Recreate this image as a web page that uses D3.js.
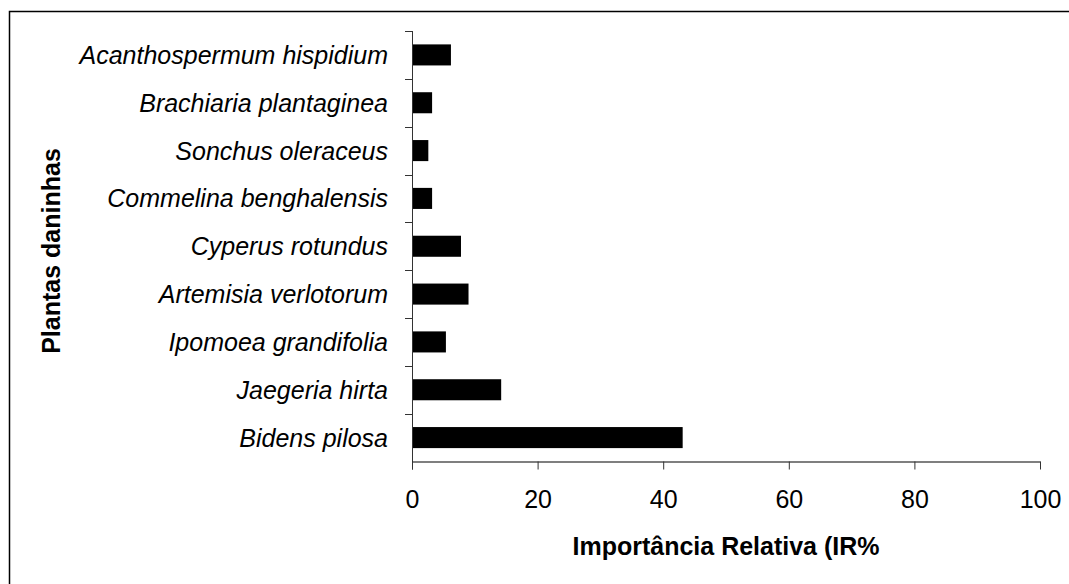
<!DOCTYPE html>
<html>
<head>
<meta charset="utf-8">
<script src="https://cdn.jsdelivr.net/npm/d3@7"></script>
<style>
  body { margin: 0; background: #fff; }
  svg { display: block; font-family: "Liberation Sans", Arial, sans-serif; }
  .cat text { font-style: italic; font-size: 25px; fill: #000; }
  .label { font-size: 25px; font-weight: bold; fill: #000; }
</style>
</head>
<body>
<svg id="chart" width="1069" height="584"></svg>
<script>
// top to bottom as drawn
const species = ['Acanthospermum hispidium', 'Brachiaria plantaginea', 'Sonchus oleraceus',
    'Commelina benghalensis', 'Cyperus rotundus', 'Artemisia verlotorum',
    'Ipomoea grandifolia', 'Jaegeria hirta', 'Bidens pilosa'];
const irValues = [6.2, 3.2, 2.6, 3.2, 7.8, 9.0, 5.4, 14.2, 43.1];
const xTicks = [0, 20, 40, 60, 80, 100];

const svg = d3.select('#chart');

// outer frame (right and bottom edges fall off the picture)
svg.append('rect')
    .attr('x', 9.5).attr('y', 11.5)
    .attr('width', 1100).attr('height', 620)
    .attr('fill', 'none')
    .attr('stroke', '#000')
    .attr('stroke-width', 1.5);

const plotLeft = 412, plotRight = 1040, plotTop = 31, plotBottom = 461.5;

const xScale = d3.scaleLinear().domain([0, 100]).range([plotLeft, plotRight]);
const yScale = d3.scaleBand().domain(species).range([plotTop, plotBottom]).paddingInner(0.56).paddingOuter(0.28);
const yBand = d3.scaleBand().domain(species).range([plotTop, plotBottom]);

// category ticks on the y axis
svg.append('g')
    .selectAll('line')
    .data(species.slice(1))
    .enter()
    .append('line')
    .attr('x1', plotLeft - 7).attr('x2', plotLeft)
    .attr('y1', function(d) { return Math.round(yBand(d)) + 0.5; })
    .attr('y2', function(d) { return Math.round(yBand(d)) + 0.5; })
    .attr('stroke', '#333');

svg.append('line')
    .attr('x1', plotLeft - 7).attr('x2', plotLeft)
    .attr('y1', plotTop + 0.5).attr('y2', plotTop + 0.5)
    .attr('stroke', '#333');

// bars
svg.append('g')
    .selectAll('rect')
    .data(species)
    .enter()
    .append('rect')
    .attr('x', xScale(0))
    .attr('y', function(d) { return yScale(d); })
    .attr('width', function(d, i) { return xScale(irValues[i]) - xScale(0); })
    .attr('height', yScale.bandwidth())
    .attr('fill', '#000');

// category labels
svg.append('g')
    .attr('class', 'cat')
    .selectAll('text')
    .data(species)
    .enter()
    .append('text')
    .attr('x', 388)
    .attr('y', function(d) { return yBand(d) + yBand.bandwidth() / 2; })
    .attr('dy', '0.36em')
    .attr('text-anchor', 'end')
    .text(function(d) { return d; });

// y axis line
svg.append('line')
    .attr('x1', plotLeft + 0.5).attr('x2', plotLeft + 0.5)
    .attr('y1', plotTop).attr('y2', plotBottom + 8)
    .attr('stroke', '#333');

// x axis
const xAxis = svg.append('g')
    .attr('transform', 'translate(0,' + plotBottom + ')')
    .call(d3.axisBottom(xScale).tickValues(xTicks).tickSize(8).tickPadding(21).tickSizeOuter(0));
xAxis.select('.domain').attr('stroke', '#000').attr('stroke-width', 1.2);
xAxis.selectAll('.tick line').attr('stroke', '#333');
xAxis.selectAll('.tick text')
    .attr('fill', '#000')
    .style('font-family', '"Liberation Sans", Arial, sans-serif')
    .style('font-size', '25px');

// axis titles
svg.append('text')
    .attr('class', 'label')
    .attr('x', 726)
    .attr('y', 555)
    .attr('text-anchor', 'middle')
    .text('Importância Relativa (IR%');

svg.append('text')
    .attr('class', 'label')
    .attr('transform', 'translate(60,' + 251 + ') rotate(-90)')
    .attr('text-anchor', 'middle')
    .text('Plantas daninhas');
</script>
</body>
</html>
